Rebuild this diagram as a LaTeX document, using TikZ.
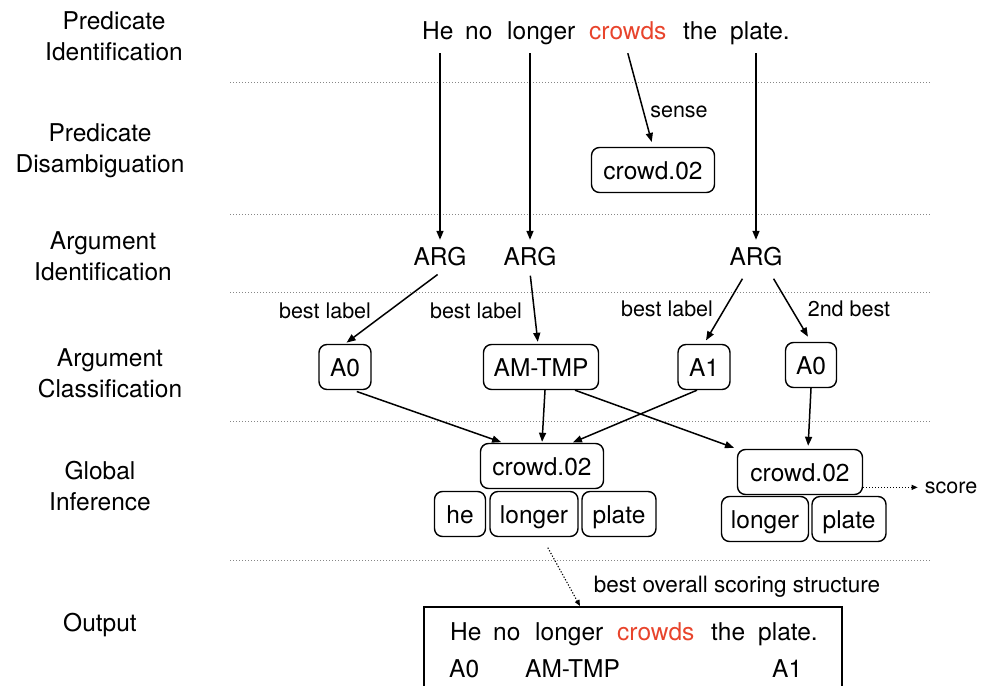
\documentclass[tikz,border=0pt]{standalone}
\usepackage{fontspec}
\setmainfont{TeX Gyre Heros}
\usetikzlibrary{arrows.meta}
\definecolor{predred}{RGB}{232,68,44}
\definecolor{sepgray}{RGB}{135,135,135}

\begin{document}
\begin{tikzpicture}[x=1pt,y=-1pt,
  every node/.style={font=\fontsize{24.5}{30.5}\selectfont},
  stage/.style={align=center, anchor=base, inner sep=0pt},
  word/.style={anchor=base west, inner xsep=0pt, inner ysep=8pt, text height=18pt, text depth=5pt},
  plainword/.style={anchor=base west, inner sep=0pt},
  argnode/.style={anchor=base, inner xsep=2pt, inner ysep=7.5pt, text height=17.5pt, text depth=0pt},
  rbox/.style={draw, rounded corners=8pt, line width=1.4pt, inner sep=0pt, minimum height=45pt, text height=18pt, text depth=0pt},
  edgelabel/.style={anchor=base, inner sep=0pt, font=\fontsize{21.5}{26}\selectfont},
  sep/.style={sepgray, line width=1pt, dash pattern=on 1pt off 2pt},
  arr/.style={line width=1.5pt, -{Triangle[length=9pt,width=7pt]}},
  dotarr/.style={line width=1.1pt, dash pattern=on 1.2pt off 1.8pt, -{Triangle[length=6pt,width=5pt]}},
]
\useasboundingbox (0,0) rectangle (984,685);
\clip (0,0) rectangle (984,685);

% stage names (anchored on the baseline of their last line)
\node[stage] (st1) at (114,60)  {Predicate\\Identification};
\node[stage] (st2) at (100,172) {Predicate\\Disambiguation};
\node[stage] (st3) at (103,280) {Argument\\Identification};
\node[stage] (st4) at (110,397) {Argument\\Classification};
\node[stage] (st5) at (100,510) {Global\\Inference};
\node[stage] (st6) at (100,631) {Output};

% stage separators
\foreach \yy in {82,214,292,421,560}
  \draw[sep] (230,\yy) -- (930,\yy);

% input sentence
\node[word] (he)     at (422,40) {He};
\node[word] (no)     at (465,40) {no};
\node[word] (longer) at (507,40) {longer};
\node[word, text=predred] (crowds) at (589,40) {crowds};
\node[word] (the)    at (683,40) {the};
\node[word] (plate)  at (730,40) {plate.};

% predicate sense
\node[rbox, minimum width=123pt] (sense) at (653,170) {crowd.02};
\node[edgelabel] (senselbl) at (679,117) {sense};

% argument candidates
\node[argnode] (arg1) at (440,265) {ARG};
\node[argnode] (arg2) at (530,265) {ARG};
\node[argnode] (arg3) at (756,265) {ARG};

% argument labels
\node[rbox, minimum width=52pt]  (a0l)   at (345,367) {A0};
\node[rbox, minimum width=115pt] (amtmp) at (541,367) {AM-TMP};
\node[rbox, minimum width=52pt]  (a1)    at (704,367) {A1};
\node[rbox, minimum width=51pt]  (a0r)   at (811,365) {A0};

\node[edgelabel] (bl1) at (325,318) {best label};
\node[edgelabel] (bl2) at (476,318) {best label};
\node[edgelabel] (bl3) at (667,316) {best label};
\node[edgelabel] (nd2) at (849,316) {2nd best};

% candidate structures
\node[rbox, minimum width=123pt] (crowdL)  at (542,466) {crowd.02};
\node[rbox, minimum width=51pt]  (heL)     at (460,514) {he};
\node[rbox, minimum width=88pt]  (longerL) at (534,514) {longer};
\node[rbox, minimum width=74pt]  (plateL)  at (619,514) {plate};

\node[rbox, minimum width=125pt] (crowdR)  at (800,472) {crowd.02};
\node[rbox, minimum width=87pt]  (longerR) at (765,519) {longer};
\node[rbox, minimum width=74pt]  (plateR)  at (849,519) {plate};

\node[edgelabel, inner xsep=7pt] (score) at (951,493) {score};
\node[edgelabel, font=\fontsize{22.5}{27}\selectfont] (bestlbl) at (737,592) {best overall scoring structure};

% output
\node[draw, line width=1.4pt, minimum width=418pt, minimum height=110pt, inner sep=0pt] (outbox) at (633,662) {};
\node[plainword] (ohe)     at (450,640) {He};
\node[plainword] (ono)     at (493,640) {no};
\node[plainword] (olonger) at (535,640) {longer};
\node[plainword, text=predred] (ocrowds) at (617,640) {crowds};
\node[plainword] (othe)    at (711,640) {the};
\node[plainword] (oplate)  at (758,640) {plate.};
\node[plainword] (oa0)     at (449,677) {A0};
\node[plainword] (oamtmp)  at (525,677) {AM-TMP};
\node[plainword] (oa1)     at (772,677) {A1};
\coordinate (bestend) at (580,606);

% connectors
\draw[arr] (arg1 |- he.south) -- (arg1.north);
\draw[arr] (arg2 |- longer.south) -- (arg2.north);
\draw[arr] (arg3 |- plate.south) -- (arg3.north);
\draw[arr, shorten >=5pt] (crowds.south) -- (sense.north);

\draw[arr, shorten <=3pt, shorten >=2pt] (arg1.south) -- (a0l.north);
\draw[arr, shorten <=3pt, shorten >=2pt] (arg2.south) -- ([xshift=-3pt]amtmp.north);
\draw[arr, shorten <=7pt, shorten >=4pt] ([xshift=-10pt]arg3.south) -- (a1.north);
\draw[arr, shorten <=7pt, shorten >=6pt] ([xshift=14pt]arg3.south) -- (a0r.north);

\draw[arr, shorten <=4pt, shorten >=2pt] ([xshift=8pt]a0l.south) -- ([xshift=-39pt]crowdL.north);
\draw[arr, shorten >=1pt] ([xshift=4pt]amtmp.south) -- (crowdL.north);
\draw[arr, shorten >=1pt] ([xshift=-7pt]a1.south) -- ([xshift=30pt]crowdL.north);
\draw[arr, shorten >=3pt] ([xshift=34pt]amtmp.south) -- (crowdR.north west);
\draw[arr, shorten >=3pt] (a0r.south) -- ([xshift=8pt]crowdR.north);

\draw[dotarr] (crowdR.east |- score.west) -- (score.west);
\draw[dotarr, shorten <=12pt] ([xshift=8pt]longerL.south) -- (bestend);
\end{tikzpicture}
\end{document}
